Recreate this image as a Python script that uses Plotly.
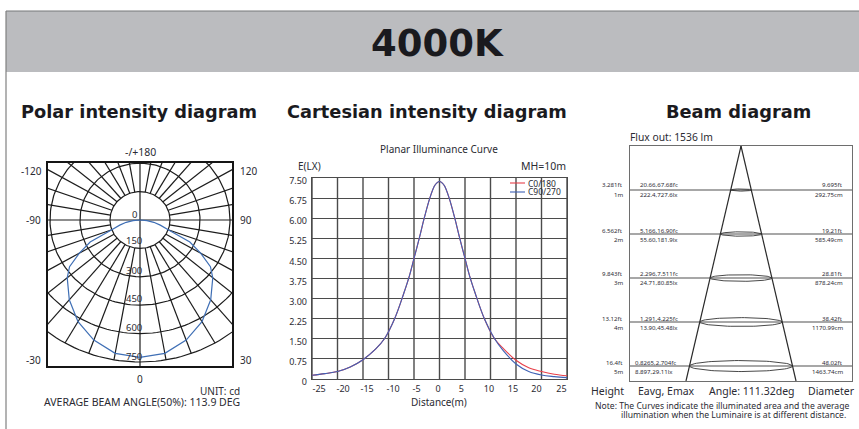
import numpy as np
import plotly.graph_objects as go

W, H = 859, 429

# ---- polar data
polar_angles = [-90,-85,-80,-75,-70,-65,-60,-55,-50,-40,-30,-20,-10,0,10,20,30,40,50,55,60,65,70,75,80,85,90]
polar_values = [0,35,70,105,150,275,350,430,475,550,620,675,715,725,715,675,620,550,475,430,350,275,150,105,70,35,0]
polar_rings = [150,300,450,600,750]
polar_ring_labels = ["0","150","300","450","600","750"]
polar_spokes = list(range(-170,190,10))

# ---- cartesian data
dist = [-25,-22.5,-20,-17.5,-15,-12.5,-10.8,-8.8,-7,-5.9,-5,-3.9,-3,-1.9,-1,-.5,0,.5,1,1.9,3,3.9,5,5.9,7,8.8,10.8,12.5,15,17.5,20,22.5,25]
c0_180 = [.14,.2,.28,.45,.72,1.12,1.5,2.25,3.2,3.85,4.5,5.3,6.0,6.75,7.2,7.32,7.37,7.32,7.2,6.75,6.0,5.3,4.5,3.85,3.2,2.25,1.5,1.14,.7,.42,.28,.18,.12]
c90_270 = [.14,.2,.28,.45,.72,1.12,1.5,2.25,3.2,3.85,4.5,5.3,6.0,6.75,7.2,7.32,7.37,7.32,7.2,6.75,6.0,5.3,4.5,3.85,3.2,2.25,1.5,1.06,.56,.28,.15,.09,.05]
x_grid = list(range(-25,30,5))
y_grid = [0,.75,1.5,2.25,3,3.75,4.5,5.25,6,6.75,7.5]
y_labels = ["0","0.75","1.50","2.25","3.00","3.75","4.50","5.25","6.00","6.75","7.50"]
x_label_pos = [-23.6,-18.9,-14.2,-9.1,-4.5,-.3,4.3,9.7,14.4,19,23.9]
x_labels = ["-25","-20","-15","-10","-5","0","5","10","15","20","25"]

# ---- beam data
heights_m = [1,2,3,4,5]
diameter_cm = [292.75,585.49,878.24,1170.99,1463.74]
heights_lab = ["3.281ft","6.562ft","9.843ft","13.12ft","16.4ft"]
metres_lab = ["1m","2m","3m","4m","5m"]
fc_lab = ["20.66,67.68fc","5.166,16.90fc","2.296,7.511fc","1.291,4.225fc","0.8265,2.704fc"]
lx_lab = ["222.4,727.6lx","55.60,181.9lx","24.71,80.85lx","13.90,45.48lx","8.897,29.11lx"]
ft_lab = ["9.695ft","19.21ft","28.81ft","38.42ft","48.02ft"]
cm_lab = ["292.75cm","585.49cm","878.24cm","1170.99cm","1463.74cm"]
beam_angle = 111.32

TXT = "#2b2b33"
SANS = "Noto Sans"
BOLD = "DejaVu Sans"

def px(x): return x / W
def py(y): return 1 - y / H

fig = go.Figure()
anns = []
def text(x, y, s, size=9, anchor="center", color=TXT, family=SANS, bold=False):
    anns.append(dict(xref="paper", yref="paper", x=px(x), y=py(y), text=f"<b>{s}</b>" if bold else s,
                     showarrow=False, xanchor=anchor, yanchor="middle",
                     font=dict(size=size, color=color, family=family), borderpad=0, borderwidth=0))

shapes = [
    dict(type="rect", xref="paper", yref="paper", x0=px(6), x1=1.01, y0=py(72), y1=py(11),
         fillcolor="#bbbcbf", line=dict(width=0), layer="below"),
    dict(type="line", xref="paper", yref="paper", x0=px(6), x1=1, y0=py(11), y1=py(11), line=dict(color="#77787a", width=1)),
    dict(type="line", xref="paper", yref="paper", x0=px(6), x1=px(6), y0=py(11), y1=0, line=dict(color="#808080", width=1.2)),
]

# ---- polar panel
to_xy = lambda ang, r: (np.array(r) * np.sin(np.radians(ang)), -np.array(r) * np.cos(np.radians(ang)))
GRID = "#1c1c1c"
th = np.arange(0, 361, 2)
for r in polar_rings:
    x, y = to_xy(th, np.full(th.shape, r))
    fig.add_trace(go.Scatter(x=x, y=y, mode="lines", line=dict(color=GRID, width=1.2), xaxis="x", yaxis="y", showlegend=False, hoverinfo="skip"))
for a in polar_spokes:
    axial = a % 90 == 0
    x, y = to_xy(a, np.array([0, 1000]) if axial else np.array([polar_rings[0], polar_rings[-1]]))
    fig.add_trace(go.Scatter(x=x, y=y, mode="lines", line=dict(color=GRID, width=1.2), xaxis="x", yaxis="y", showlegend=False, hoverinfo="skip"))
x, y = to_xy(np.array(polar_angles), polar_values)
fig.add_trace(go.Scatter(x=x, y=y, mode="lines", name="Intensity", line=dict(color="#3f6fb5", width=1.2), xaxis="x", yaxis="y", showlegend=False))

# ---- cartesian panel
fig.add_trace(go.Scatter(x=dist, y=c0_180, mode="lines", name="C0/180", line=dict(color="#e8404a", width=1.1, shape="spline"), xaxis="x2", yaxis="y2", showlegend=False))
fig.add_trace(go.Scatter(x=dist, y=c90_270, mode="lines", name="C90/270", line=dict(color="#3f62b5", width=1.1, shape="spline", dash="solid"), xaxis="x2", yaxis="y2", showlegend=False))
for g in x_grid:
    shapes.append(dict(type="line", xref="x2", yref="y2", x0=g, x1=g, y0=0, y1=7.5, line=dict(color="#4b4b4b", width=1.4), layer="below"))

# ---- beam panel
half = np.tan(np.radians(beam_angle / 2))
for sgn in (-1, 1):
    hs = np.array([0, 5.34])
    fig.add_trace(go.Scatter(x=sgn * hs * half * 100, y=hs, mode="lines", line=dict(color="#2a2a2a", width=1.2), xaxis="x3", yaxis="y3", showlegend=False, hoverinfo="skip"))
t = np.linspace(0, 2 * np.pi, 90)
for h, d in zip(heights_m, diameter_cm):
    shapes.append(dict(type="line", xref="x3", yref="y3", x0=-1577, x1=1577, y0=h, y1=h, line=dict(color="#8a8a8a", width=1.4), layer="below"))
    fig.add_trace(go.Scatter(x=d / 2 * np.cos(t), y=h + 0.025 * h * np.sin(t), mode="lines", line=dict(color="#333333", width=0.9), xaxis="x3", yaxis="y3", showlegend=False, hoverinfo="skip"))

def dom(a, b, total): return [a / total, b / total]
hidden = dict(showticklabels=False, ticks="", showgrid=False, zeroline=False, fixedrange=True, automargin=False)
fig.update_layout(
    width=W, height=H, margin=dict(l=0, r=0, t=0, b=0, pad=0), paper_bgcolor="white", plot_bgcolor="white",
    showlegend=False, shapes=shapes,
    xaxis=dict(domain=dom(48, 232, W), range=[-460, 460], anchor="y", showline=True, mirror=True, linecolor="#151515", linewidth=1.6, **hidden),
    yaxis=dict(domain=[1 - 366 / H, 1 - 163 / H], range=[-771, 301], anchor="x", showline=True, mirror=True, linecolor="#151515", linewidth=1.6, **hidden),
    xaxis2=dict(domain=dom(312, 567, W), range=[-25, 25], anchor="y2", tickmode="array", tickvals=x_label_pos, ticktext=x_labels, automargin=False,
                ticks="", showgrid=False, zeroline=False, showline=True, mirror=True, linecolor="#4b4b4b", linewidth=1.4,
                tickfont=dict(size=9, color=TXT, family=SANS), ticklabelstandoff=1),
    yaxis2=dict(domain=[1 - 379 / H, 1 - 178 / H], range=[0, 7.5], anchor="x2", tickmode="array", tickvals=y_grid, ticktext=y_labels, automargin=False,
                ticks="", showgrid=True, gridcolor="#4b4b4b", gridwidth=1.4, zeroline=False, showline=True, mirror=True, linecolor="#4b4b4b", linewidth=1.4,
                tickfont=dict(size=9, color=TXT, family=SANS), ticklabelshift=3, ticklabelstandoff=2),
    xaxis3=dict(domain=dom(630, 852, W), range=[-1577, 1577], anchor="y3", showline=True, mirror=True, linecolor="#6e6e6e", linewidth=1.4, **hidden),
    yaxis3=dict(domain=[1 - 381 / H, 1 - 146 / H], range=[5.34, 0], anchor="x3", showline=True, mirror=True, linecolor="#6e6e6e", linewidth=1.4, **hidden),
)

# ---- texts
text(437, 43, "4000K", size=37, family=BOLD, bold=True, color="#1a1a1e")
text(139, 111, "Polar intensity diagram", size=17.8, family=BOLD, bold=True, color="#1a1a1e")
text(427, 111, "Cartesian intensity diagram", size=17.8, family=BOLD, bold=True, color="#1a1a1e")
text(738.5, 111, "Beam diagram", size=17.8, family=BOLD, bold=True, color="#1a1a1e")

text(140, 152, "-/+180", 10.5)
for s, xx, yy, an in [("-120", 21, 171, "left"), ("120", 240, 171, "left"), ("-90", 26, 220, "left"), ("90", 240, 220, "left"),
                      ("-30", 26, 360, "left"), ("30", 240, 360, "left"), ("0", 140, 379, "center")]:
    text(xx, yy, s, 10, an)
for s, yy in zip(polar_ring_labels, [214, 241, 270, 298, 327, 356]):
    text(134, yy, s, 9.5)
text(240, 391, "UNIT: cd", 10, "right")
text(240, 402, "AVERAGE BEAM ANGLE(50%): 113.9 DEG", 10.5, "right")

text(439, 149, "Planar Illuminance Curve", 10)
text(298, 166, "E(LX)", 10, "left")
text(566, 166, "MH=10m", 10.5, "right")
text(439, 402, "Distance(m)", 10)
for yy, name, col in [(183, "C0/180", "#e8404a"), (192, "C90/270", "#3f62b5")]:
    shapes_y = py(yy)
    fig.add_shape(type="line", xref="paper", yref="paper", x0=px(510), x1=px(525), y0=shapes_y, y1=shapes_y, line=dict(color=col, width=1.1))
    text(528, yy, name, 8.5, "left")

text(630, 137, "Flux out: 1536 lm", 10.3, "left")
line_y = [189, 234, 277, 322, 366]
for i, yy in enumerate(line_y):
    text(623, yy - 4, heights_lab[i], 6.1, "right")
    text(623, yy + 5, metres_lab[i], 6.1, "right")
    lx = 640 if i < 4 else 635
    text(lx, yy - 4, fc_lab[i], 6.1, "left")
    text(lx, yy + 5, lx_lab[i], 6.1, "left")
    text(843, yy - 4, ft_lab[i], 6.1, "right")
    text(843, yy + 5, cm_lab[i], 6.1, "right")
text(607, 391, "Height", 10.5)
text(666, 391, "Eavg, Emax", 10.5)
text(752, 391, "Angle: 111.32deg", 10.5)
text(855, 391, "Diameter", 10.5, "right")
text(595, 406, "Note: The Curves indicate the illuminated area and the average", 8.6, "left")
text(846, 415, "illumination when the Luminaire is at different distance.", 8.6, "right")
fig.update_layout(annotations=anns)

fig.write_html("out.html", config=dict(displayModeBar=False),
               post_script="document.body.style.margin='0';var d=document.getElementById('{plot_id}');d.style.position='absolute';d.style.left='0';d.style.top='0';")
